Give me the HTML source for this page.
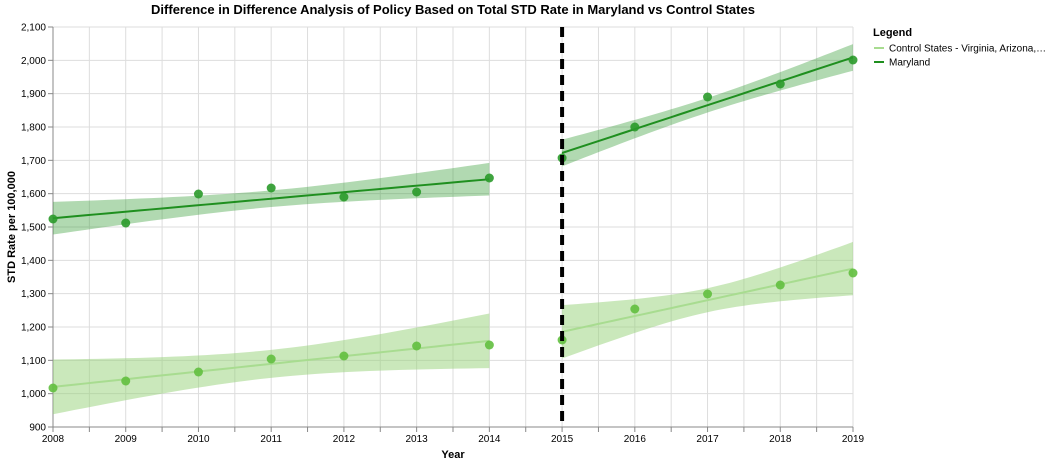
<!DOCTYPE html>
<html><head><meta charset="utf-8"><style>
body{margin:0;background:#fff;font-family:"Liberation Sans",Arial,sans-serif}
svg text{font-family:"Liberation Sans",Arial,sans-serif}
</style></head><body>
<svg id="c" width="1052" height="464"></svg>
<script>
const years=[2008,2009,2010,2011,2012,2013,2014,2015,2016,2017,2018,2019];
const marylandValues=[1524,1512,1599,1617,1590,1605,1647,1707,1800,1890,1929,2001];
const controlValues=[1017,1038,1065,1104,1113,1143,1146,1161,1254,1299,1326,1362];
// confidence half-widths [pre-center, pre-edge, post-center, post-edge]
const marylandCI=[25,49,22,40];
const controlCI=[42,82,36,80];
const yTicks=[900,1000,1100,1200,1300,1400,1500,1600,1700,1800,1900,2000,2100];
const policyYear=2015;
const X0=53,X1=853,Y0=427,Y1=27;
const x=v=>X0+(v-2008)/(2019-2008)*(X1-X0);
const y=v=>Y0-(v-900)/(2100-900)*(Y0-Y1);
const NS='http://www.w3.org/2000/svg';
const svg=document.getElementById('c');
function mk(t,a,p){const e=document.createElementNS(NS,t);for(const k in a)e.setAttribute(k,a[k]);(p||svg).appendChild(e);return e;}
const grid=mk('g',{});


for(let yr=2008;yr<=2019;yr+=0.5){mk('line',{x1:x(yr),x2:x(yr),y1:Y1,y2:Y0,stroke:'#ddd'},grid);}
yTicks.forEach(t=>{mk('line',{x1:X0,x2:X1,y1:y(t),y2:y(t),stroke:'#ddd'},grid);});
const ax=mk('g',{});


mk('line',{x1:X0,x2:X0,y1:Y1,y2:Y0,stroke:'#888'},ax);
yTicks.forEach(t=>{mk('line',{x1:X0-5,x2:X0,y1:y(t),y2:y(t),stroke:'#888'},ax);
 const tx=mk('text',{x:X0-7,y:y(t)+3.5,'text-anchor':'end','font-size':10,fill:'#000'},ax);tx.textContent=t.toLocaleString('en-US');});
const xa=mk('g',{});


mk('line',{x1:X0,x2:X1,y1:Y0,y2:Y0,stroke:'#888'},xa);
for(let yr=2008;yr<=2019;yr+=0.5){mk('line',{x1:x(yr),x2:x(yr),y1:Y0,y2:Y0+5,stroke:'#888'},xa);}
years.forEach(yr=>{const tx=mk('text',{x:x(yr),y:Y0+15,'text-anchor':'middle','font-size':10},xa);tx.textContent=yr;});
let t=mk('text',{x:453,y:458,'text-anchor':'middle','font-size':11,'font-weight':'bold'});t.textContent='Year';


t=mk('text',{transform:'translate(15,227) rotate(-90)','text-anchor':'middle','font-size':11,'font-weight':'bold'});t.textContent='STD Rate per 100,000';


t=mk('text',{x:453,y:14,'text-anchor':'middle','font-size':13,'font-weight':'bold'});t.textContent='Difference in Difference Analysis of Policy Based on Total STD Rate in Maryland vs Control States';


function fit(xs,ys,c,e){const n=xs.length,mx=xs.reduce((a,b)=>a+b)/n,my=ys.reduce((a,b)=>a+b)/n;
 let sxx=0,sxy=0;xs.forEach((v,i)=>{sxx+=(v-mx)**2;sxy+=(v-mx)*(ys[i]-my);});
 const b=sxy/sxx,a=my-b*mx,h=(xs[n-1]-xs[0])/2;
 return {f:v=>a+b*v,ci:v=>Math.sqrt(c*c+(e*e-c*c)*((v-mx)/h)**2)};}
function series(vals,ci,band,line,pt,name){
 const g=mk('g',{});
 
 
 [[0,7,0],[7,12,2]].forEach(([s,e,k0])=>{
  const xs=years.slice(s,e),ys=vals.slice(s,e),m=fit(xs,ys,ci[k0],ci[k0+1]);
  const pts=[];for(let k=0;k<=40;k++){pts.push(xs[0]+(xs[xs.length-1]-xs[0])*k/40);}
  const up=pts.map(v=>x(v)+','+y(m.f(v)+m.ci(v))),lo=pts.slice().reverse().map(v=>x(v)+','+y(m.f(v)-m.ci(v)));
  const b=mk('polygon',{points:up.concat(lo).join(' '),fill:band},g);
  
  
  const l=mk('polyline',{points:pts.map(v=>x(v)+','+y(m.f(v))).join(' '),fill:'none',stroke:line,'stroke-width':2},g);
  
  
 });
 years.forEach((yr,i)=>{const c=mk('circle',{cx:x(yr),cy:y(vals[i]),r:4.5,fill:pt,opacity:0.9},g);
  
  });
}
series(controlValues,controlCI,'rgba(150,210,120,0.5)','#a8dc90','#62bf3f','control');
series(marylandValues,marylandCI,'rgba(60,160,60,0.4)','#1f8f1f','#2a9a2a','maryland');
const pl=mk('line',{x1:x(policyYear),x2:x(policyYear),y1:Y1,y2:Y0,stroke:'#000','stroke-width':4,'stroke-dasharray':'10,6'});


const lg=mk('g',{});


t=mk('text',{x:873,y:36,'font-size':11,'font-weight':'bold'},lg);t.textContent='Legend';
mk('line',{x1:874,x2:884,y1:48,y2:48,stroke:'#a8dc90','stroke-width':2},lg);
t=mk('text',{x:889,y:51.5,'font-size':10},lg);t.textContent='Control States - Virginia, Arizona,…';


mk('line',{x1:874,x2:884,y1:62,y2:62,stroke:'#1f8f1f','stroke-width':2},lg);
t=mk('text',{x:889,y:65.5,'font-size':10},lg);t.textContent='Maryland';


</script>
</body></html>
